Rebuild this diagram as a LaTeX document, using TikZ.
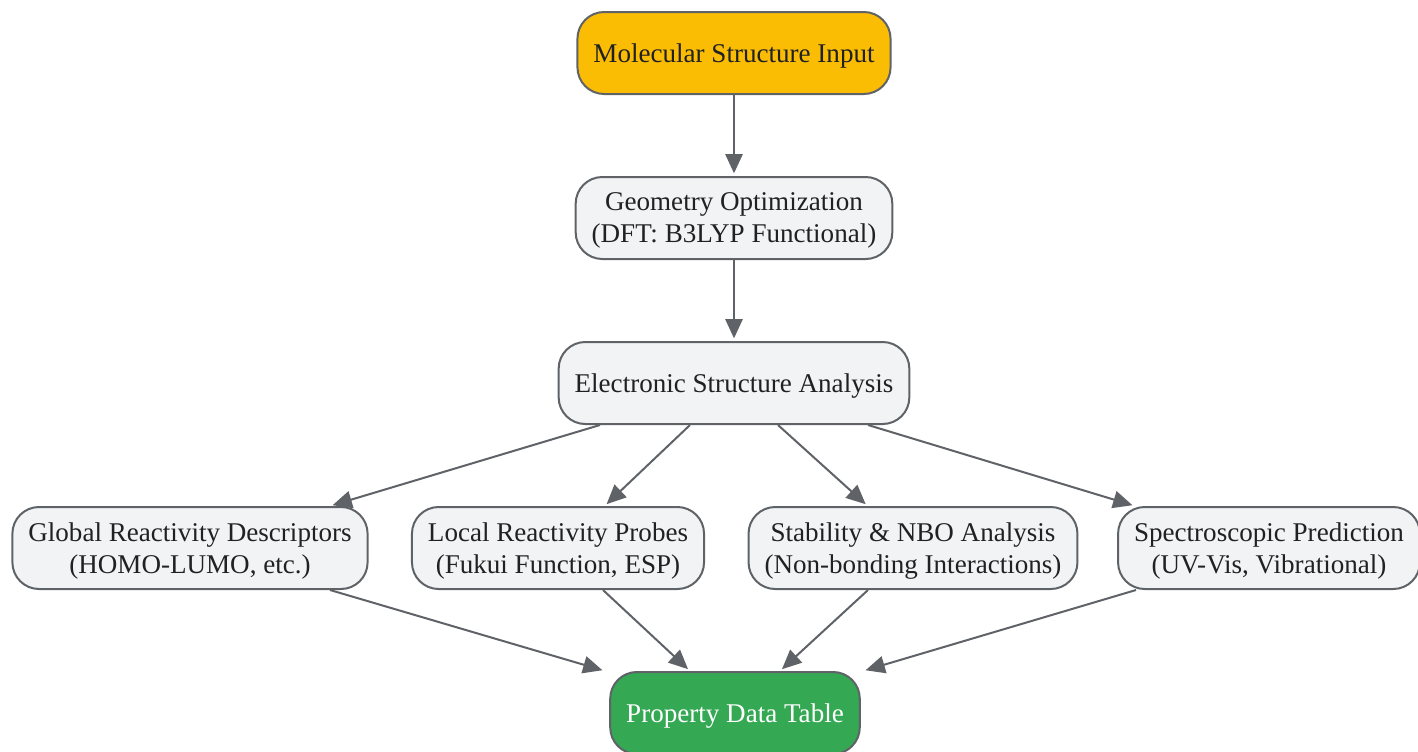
\documentclass[tikz,border=0pt]{standalone}
\usepackage{fontspec}
\setmainfont{Liberation Serif}
\usetikzlibrary{positioning, arrows.meta}
\definecolor{boxfill}{HTML}{F1F3F4}
\definecolor{boxline}{HTML}{5F6368}
\definecolor{boxtext}{HTML}{202124}
\definecolor{inputfill}{HTML}{FBBC04}
\definecolor{outputfill}{HTML}{34A853}
\tikzset{
    step box/.style = {draw=boxline, fill=boxfill, text=boxtext, line width=1.5pt,
        rounded corners=20pt, align=center, inner xsep=12pt, text depth=0pt,
        minimum height=61.5pt, font=\fontsize{20.3pt}{24pt}\selectfont},
    flow/.style = {draw=boxline, line width=1.5pt, shorten >=2pt,
        -{Triangle[length=14.5pt, width=13pt]}},
}

\begin{document}
\begin{tikzpicture}[x=0.75pt, y=-0.75pt, every node/.style=on grid, node distance=123.75pt]
    \useasboundingbox (0,0) rectangle (1418,751);
    \node[step box, fill=inputfill] (in) at (734,53) {Molecular Structure Input};
    \node[step box] (geo) [below=of in] {Geometry Optimization\\(DFT: B3LYP Functional)};
    \node[step box] (elec) [below=of geo] {Electronic Structure Analysis};

    \node[step box] (glob) at (190,548) {Global Reactivity Descriptors\\(HOMO-LUMO, etc.)};
    \node[step box] (loc) at (558,548) {Local Reactivity Probes\\(Fukui Function, ESP)};
    \node[step box] (stab) at (913,548) {Stability \& NBO Analysis\\(Non-bonding Interactions)};
    \node[step box] (spec) at (1269,548) {Spectroscopic Prediction\\(UV-Vis, Vibrational)};

    \node[step box, fill=outputfill, text=white] (prop) at (735,713) {Property Data Table};

    \draw[flow] (in) -- (geo);
    \draw[flow] (geo) -- (elec);
    \draw[flow] ([xshift=-100.5pt]elec.south) -- ([xshift=105pt]glob.north);
    \draw[flow] ([xshift=-33pt]elec.south) -- ([xshift=35pt]loc.north);
    \draw[flow] ([xshift=33pt]elec.south) -- ([xshift=-34pt]stab.north);
    \draw[flow] ([xshift=100.5pt]elec.south) -- ([xshift=-100.5pt]spec.north);
    \draw[flow] ([xshift=105pt]glob.south) -- ([xshift=-97.5pt]prop.north);
    \draw[flow] ([xshift=33.75pt]loc.south) -- ([xshift=-33.75pt]prop.north);
    \draw[flow] ([xshift=-33.75pt]stab.south) -- ([xshift=33.75pt]prop.north);
    \draw[flow] ([xshift=-99.75pt]spec.south) -- ([xshift=96pt]prop.north);
\end{tikzpicture}
\end{document}
